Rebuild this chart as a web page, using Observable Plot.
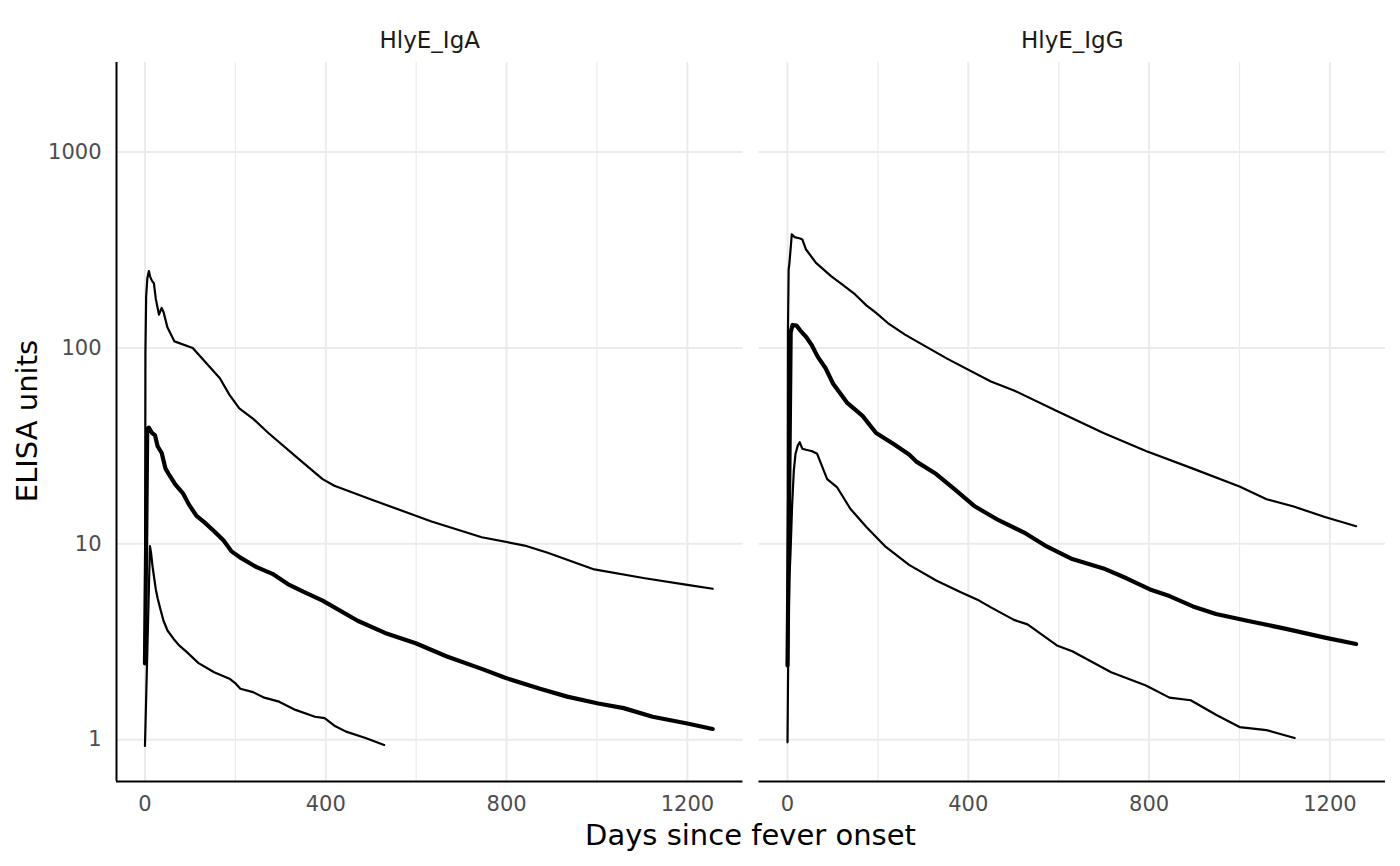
<!DOCTYPE html>
<html><head><meta charset="utf-8">
<script src="https://cdn.jsdelivr.net/npm/d3@7"></script>
<script src="https://cdn.jsdelivr.net/npm/@observablehq/plot@0.6"></script>
<style>body{margin:0;background:#fff}</style>
</head><body><div id="chart"></div>
<script>
const antigens = ["HlyE_IgA", "HlyE_IgG"];

// HlyE_IgA
const igaUpperDay = [0, 1, 2.6, 5.2, 8.6, 11.2, 15.5, 19.7, 24, 30.9, 36.9, 41.2, 49.8, 65.3, 105.6, 127, 165.7, 187, 208.7, 238.7, 273, 341.8, 393, 419, 505, 634, 745, 840, 891, 994, 1106, 1200, 1256];
const igaUpperVal = [2.5, 95, 183, 226, 247, 232, 220, 214, 178, 148, 160, 152, 127, 108, 100, 88, 70, 57.6, 49.2, 43.6, 36.8, 26.9, 21.4, 19.8, 16.7, 13.0, 10.8, 9.8, 9.0, 7.4, 6.67, 6.17, 5.9];
const igaMedianDay = [0, 5, 8.6, 15.5, 22, 28, 37, 45.5, 54, 67, 84, 97, 114, 131, 153, 174, 191.5, 213, 247, 282, 316, 350, 393, 470.5, 531, 599, 668, 745, 797, 874, 934, 1003, 1059, 1123, 1200, 1256];
const igaMedianVal = [2.45, 38.8, 39.2, 36.8, 35.9, 31.5, 29.1, 24.2, 22.4, 20.1, 18.1, 15.9, 13.9, 12.9, 11.6, 10.4, 9.15, 8.45, 7.6, 7.03, 6.23, 5.70, 5.13, 4.05, 3.51, 3.11, 2.66, 2.30, 2.07, 1.82, 1.66, 1.53, 1.45, 1.31, 1.21, 1.135];
const igaLowerDay = [0, 11, 13.7, 16.3, 19.7, 24, 28, 34.3, 41, 49.8, 63, 75.6, 92.7, 118.5, 153, 187, 200, 211, 239, 264, 294.5, 333, 376, 397.5, 419, 445, 488, 529];
const igaLowerVal = [0.93, 9.74, 8.9, 7.81, 6.85, 5.85, 5.27, 4.62, 4.05, 3.61, 3.28, 3.03, 2.80, 2.46, 2.21, 2.05, 1.94, 1.82, 1.75, 1.64, 1.57, 1.42, 1.31, 1.29, 1.18, 1.10, 1.02, 0.94];

// HlyE_IgG
const iggUpperDay = [0, 1, 2.5, 4.3, 9.5, 15.5, 28, 32.7, 41, 63, 97, 123, 149, 174.5, 196, 222, 260, 286, 355, 450, 501, 604, 699, 793, 897, 1000, 1060, 1120, 1189, 1258];
const iggUpperVal = [2.4, 120, 250, 272, 380, 368, 362, 358, 318, 272, 232, 209, 188, 165, 151, 134, 117, 108, 87.7, 67.4, 60.7, 46.7, 36.8, 29.8, 24.2, 19.6, 16.9, 15.5, 13.7, 12.3];
const iggMedianDay = [0, 7, 11, 20, 28, 41, 54, 67, 84, 101, 131.5, 166, 196, 234.7, 269, 286, 329, 372, 415, 467, 527, 570, 630, 699, 750, 802, 845, 897, 948, 1017, 1103, 1189, 1258];
const iggMedianVal = [2.39, 120, 131, 130, 123, 114, 103, 90, 79, 65.6, 52.6, 45, 36.8, 32.3, 28.6, 26.2, 22.7, 18.8, 15.5, 13.2, 11.3, 9.8, 8.36, 7.49, 6.67, 5.85, 5.41, 4.79, 4.38, 4.05, 3.68, 3.32, 3.08];
const iggLowerDay = [0, 2, 4, 6.6, 10.3, 14, 17.7, 22.8, 27, 32.7, 41.3, 54.5, 65.6, 87.7, 110, 139, 174.5, 217.5, 269, 329, 381, 424, 450, 501, 531, 596, 630, 673, 716, 793, 845, 892, 948, 1000, 1060, 1122];
const iggLowerVal = [0.97, 3.5, 6.5, 8.9, 16, 23.7, 28.8, 31.8, 33, 30.6, 30.2, 29.7, 28.8, 21.4, 19.4, 15.1, 12.2, 9.64, 7.81, 6.50, 5.70, 5.13, 4.74, 4.09, 3.88, 3.03, 2.83, 2.50, 2.21, 1.89, 1.64, 1.59, 1.34, 1.16, 1.12, 1.02];

const xTicks = [0, 400, 800, 1200];
const xMinorTicks = [200, 600, 1000];
const yTicks = [1, 10, 100, 1000];
const xDomain = [-63, 1323];
const yDomain = [0.612, 2865];

function rows(antigen, q, days, vals) {
  return days.map((d, i) => ({antigen, q, day: d, value: vals[i]}));
}
const data = [
  ...rows("HlyE_IgA", "upper", igaUpperDay, igaUpperVal),
  ...rows("HlyE_IgA", "median", igaMedianDay, igaMedianVal),
  ...rows("HlyE_IgA", "lower", igaLowerDay, igaLowerVal),
  ...rows("HlyE_IgG", "upper", iggUpperDay, iggUpperVal),
  ...rows("HlyE_IgG", "median", iggMedianDay, iggMedianVal),
  ...rows("HlyE_IgG", "lower", iggLowerDay, iggLowerVal)
];
const thin = data.filter(d => d.q !== "median");
const thick = data.filter(d => d.q === "median");

const plot = Plot.plot({
  width: 1400, height: 866,
  marginLeft: 116, marginRight: 15, marginTop: 62, marginBottom: 85,
  style: {fontFamily: "DejaVu Sans", fontSize: "21px", background: "#fff"},
  fx: {domain: antigens, paddingInner: 0.025, paddingOuter: 0, round: false, label: null},
  x: {domain: xDomain},
  y: {type: "log", domain: yDomain},
  marks: [
    Plot.gridX(xMinorTicks, {stroke: "#ebebeb", strokeOpacity: 1, strokeWidth: 1.2}),
    Plot.gridX(xTicks, {stroke: "#ebebeb", strokeOpacity: 1, strokeWidth: 2}),
    Plot.gridY(yTicks, {stroke: "#ebebeb", strokeOpacity: 1, strokeWidth: 2}),
    Plot.axisFx({anchor: "top", tickSize: 0, tickPadding: 15, fontSize: 23, fill: "#1a1a1a", label: null}),
    Plot.axisX(xTicks, {tickSize: 0, tickPadding: 15, fontSize: 21, fill: "#4d4d4d", label: null, tickFormat: d => String(d)}),
    Plot.axisY(yTicks, {tickSize: 0, tickPadding: 15, fontSize: 21, fill: "#4d4d4d", label: null, tickFormat: d => String(d)}),
    Plot.line(thin, {x: "day", y: "value", z: "q", fx: "antigen", stroke: "#000", strokeWidth: 2.2}),
    Plot.line(thick, {x: "day", y: "value", z: "q", fx: "antigen", stroke: "#000", strokeWidth: 4.2}),
    Plot.ruleY([yDomain[0]], {stroke: "#000", strokeWidth: 2}),
    Plot.ruleX([{antigen: antigens[0], x: xDomain[0]}], {x: "x", fx: "antigen", stroke: "#000", strokeWidth: 2})
  ]
});

const svg = d3.select(plot);
svg.append("text")
  .attr("x", 750.5).attr("y", 845)
  .attr("text-anchor", "middle")
  .attr("font-family", "DejaVu Sans").attr("font-size", 29).attr("fill", "#000")
  .text("Days since fever onset");
svg.append("text")
  .attr("transform", "translate(36.7,421) rotate(-90)")
  .attr("text-anchor", "middle")
  .attr("font-family", "DejaVu Sans").attr("font-size", 29).attr("fill", "#000")
  .text("ELISA units");

document.getElementById("chart").append(plot);
</script>
</body></html>
